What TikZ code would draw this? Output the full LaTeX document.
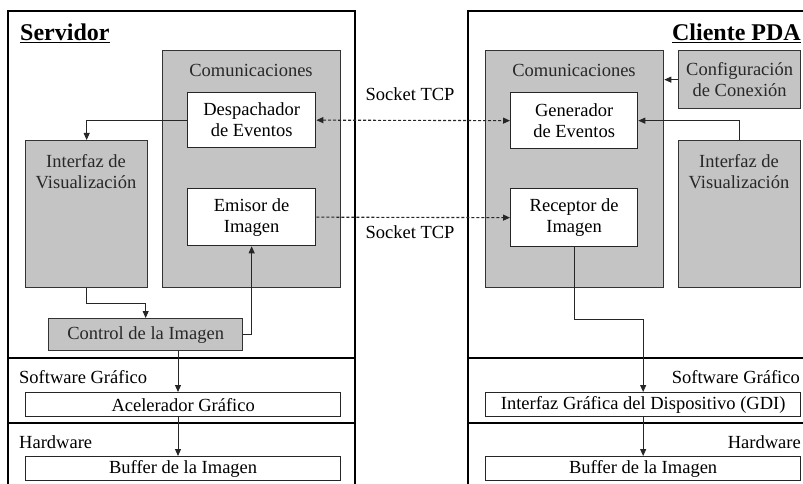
\documentclass[tikz,border=0pt]{standalone}
\usepackage{fontspec}
\setmainfont{Liberation Serif}
\usetikzlibrary{arrows.meta,calc}
\definecolor{boxgray}{RGB}{196,196,196}
\definecolor{inkgray}{RGB}{40,40,40}
\tikzset{
  txt/.style={font=\fontsize{18.5bp}{21bp}\selectfont, align=center, inner sep=0pt},
  frame/.style={draw=black, line width=1.8bp},
  graybox/.style={draw=black!80, line width=1.3bp, fill=boxgray, inner sep=0pt, anchor=north west},
  whitebox/.style={draw=black!85, line width=1.3bp, fill=white, inner sep=0pt, anchor=north west, txt},
  conn/.style={draw=black!85, line width=0.9bp, -{Triangle[length=7bp,width=6bp]}},
  sock/.style={draw=black!85, line width=1.1bp, dash pattern=on 3bp off 2bp},
  title/.style={font=\fontsize{24bp}{28bp}\selectfont\bfseries, inner sep=0pt}
}
\begin{document}
\begin{tikzpicture}[x=1bp,y=-1bp]
\useasboundingbox (0,0) rectangle (803,484);
\begin{scope}
\clip (0,0) rectangle (803,484);

% ---------- Servidor ----------
\draw[frame] (8,11) rectangle (355,500);
\draw[frame] (8,358) -- (355,358);
\draw[frame] (8,423) -- (355,423);
\node[title, anchor=west] (tserv) at (20,33) {\underline{Servidor}};

\node[graybox, minimum width=178bp, minimum height=237bp] (comL) at (162,50) {};
\node[txt, text=inkgray] (comLt) at (251,70) {Comunicaciones};
\node[whitebox, minimum width=128bp, minimum height=55bp] (desp) at (187,92) {Despachador\\de Eventos};
\node[whitebox, minimum width=128bp, minimum height=57bp] (emi) at (187,188) {Emisor de\\Imagen};

\node[graybox, minimum width=122bp, minimum height=147bp] (intL) at (25,140) {};
\node[txt, text=inkgray] (intLt) at (86,172) {Interfaz de\\Visualización};

\node[graybox, minimum width=194bp, minimum height=32bp, txt, text=inkgray] (ctrl) at (48,318) {Control de la Imagen};

\node[txt, anchor=west] (swL) at (19,377) {Software Gráfico};
\node[whitebox, minimum width=315bp, minimum height=24bp] (acel) at (25,392) {Acelerador Gráfico};
\node[txt, anchor=west] (hwL) at (19,442) {Hardware};
\node[whitebox, minimum width=315bp, minimum height=24bp] (bufL) at (25,456) {Buffer de la Imagen};

\coordinate (ax) at (178,0);
\draw[conn] (desp.west) -| (intL.north);
\draw[conn] (intL.south) -- ++(0,15) -| (ctrl.north);
\draw[conn] (ctrl.east) -| (emi.south);
\draw[conn] (ctrl.south -| ax) -- (acel.north -| ax);
\draw[conn] (acel.south -| ax) -- (bufL.north -| ax);

% ---------- Cliente PDA ----------
\draw[frame] (468,11) rectangle (830,500);
\draw[frame] (468,358) -- (830,358);
\draw[frame] (468,423) -- (830,423);
\node[title, anchor=east] (tcli) at (801,33) {\underline{Cliente PDA}};

\node[graybox, minimum width=178bp, minimum height=237bp] (comR) at (485,50) {};
\node[txt, text=inkgray] (comRt) at (574,70) {Comunicaciones};
\node[whitebox, minimum width=127bp, minimum height=56bp] (gen) at (510,92) {Generador\\de Eventos};
\node[whitebox, minimum width=127bp, minimum height=58bp] (rec) at (510,188) {Receptor de\\Imagen};

\node[graybox, minimum width=122bp, minimum height=58bp, txt, text=inkgray] (conf) at (678,50) {Configuración\\de Conexión};
\node[graybox, minimum width=122bp, minimum height=147bp] (intR) at (678,140) {};
\node[txt, text=inkgray] (intRt) at (739,172) {Interfaz de\\Visualización};

\node[txt, anchor=east] (swR) at (800,377) {Software Gráfico};
\node[whitebox, minimum width=315bp, minimum height=24bp] (gdi) at (485,392) {Interfaz Gráfica del Dispositivo (GDI)};
\node[txt, anchor=east] (hwR) at (801,442) {Hardware};
\node[whitebox, minimum width=315bp, minimum height=24bp] (bufR) at (485,456) {Buffer de la Imagen};

\draw[conn] (conf.west) -- (comR.east |- conf.west);
\draw[conn] (intR.north) |- (gen.east);
\draw[conn] (rec.south) -- (rec.south |- 0,319) -| (gdi.north);
\draw[conn] (gdi.south) -- (bufR.north);

% ---------- Sockets ----------
\draw[sock, {Triangle[length=7bp,width=6bp]}-{Triangle[length=7bp,width=6bp]}] (desp.east) -- (gen.west);
\draw[sock, -{Triangle[length=7bp,width=6bp]}] (emi.east) -- (rec.west);
\node[txt] (s1) at (410,94) {Socket TCP};
\node[txt] (s2) at (410,232) {Socket TCP};
\end{scope}
\end{tikzpicture}
\end{document}
